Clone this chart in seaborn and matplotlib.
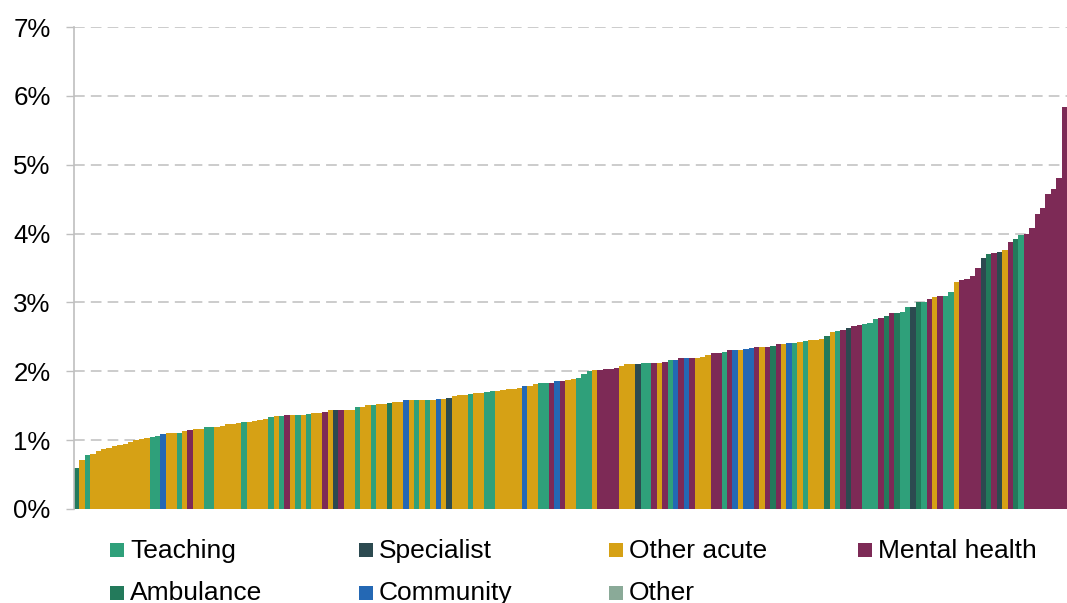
import matplotlib
matplotlib.use("Agg")
import matplotlib.pyplot as plt
from matplotlib.patches import Rectangle
from matplotlib.ticker import FuncFormatter
import seaborn as sns
import pandas as pd

# ---- data -------------------------------------------------------------
type_names = {
    "T": "Teaching", "S": "Specialist", "OA": "Other acute", "MH": "Mental health",
    "A": "Ambulance", "C": "Community", "O": "Other",
}
legend_order = ["Teaching", "Specialist", "Other acute", "Mental health",
                "Ambulance", "Community", "Other"]
colors = ["#2FA07A", "#2C4A50", "#D6A115", "#7D2A56",
          "#237A5B", "#2468B4", "#8AAA98"]

trust_type = (
    ["A", "OA", "T", "OA", "OA", "OA", "OA", "OA", "OA", "OA", "OA", "OA", "OA", "OA",
     "T", "T", "C", "OA", "OA", "T", "OA", "MH", "OA", "OA"]
    + ["T", "T", "OA", "OA", "OA", "OA", "OA", "T", "OA", "OA", "OA", "OA", "T", "OA",
       "T", "MH", "OA", "T", "OA", "T", "OA", "OA"]
    + ["MH", "OA", "S", "MH", "OA", "OA", "T", "OA", "OA", "T", "OA", "OA", "A", "OA",
       "OA", "C", "OA", "T", "OA", "T", "OA", "C", "OA", "S"]
    + ["OA", "OA", "OA", "T", "OA", "OA", "T", "T", "OA", "OA", "OA", "OA", "OA", "C",
       "OA", "OA", "T", "T", "MH", "C", "MH", "OA", "OA"]
    + ["T", "T", "T", "OA", "MH", "MH", "MH", "MH", "OA", "OA", "OA", "S", "T", "T",
       "MH", "OA", "MH", "T", "C", "MH", "C", "MH", "OA"]
    + ["OA", "OA", "MH", "MH", "T", "MH", "C", "OA", "C", "C", "MH", "OA", "MH", "A",
       "MH", "OA", "C", "T", "OA", "T", "OA", "OA", "OA"]
    + ["A", "OA", "T", "MH", "S", "MH", "MH", "T", "T", "T", "MH", "A", "MH", "A",
       "T", "T", "S", "A", "T", "MH", "OA", "MH", "T"]
    + ["T", "OA", "MH", "MH", "MH", "MH", "S", "A", "MH", "S", "OA", "MH", "A", "T",
       "MH", "MH", "MH", "MH", "MH", "MH", "MH", "MH"]
)

rate_pct = (
    [0.59, 0.71, 0.79, 0.80, 0.84, 0.87, 0.88, 0.915, 0.93, 0.95, 0.98, 0.995, 1.01,
     1.035, 1.045, 1.06, 1.085, 1.10, 1.11, 1.11, 1.13, 1.15, 1.155, 1.16]
    + [1.185, 1.19, 1.19, 1.20, 1.235, 1.235, 1.245, 1.26, 1.26, 1.28, 1.295, 1.307,
       1.33, 1.35, 1.355, 1.365, 1.37, 1.37, 1.37, 1.38, 1.39, 1.395]
    + [1.41, 1.433, 1.433, 1.433, 1.433, 1.442, 1.477, 1.481, 1.506, 1.515, 1.53, 1.53,
       1.539, 1.549, 1.554, 1.578, 1.583, 1.588, 1.588, 1.588, 1.59, 1.602, 1.602, 1.612]
    + [1.646, 1.656, 1.66, 1.665, 1.68, 1.685, 1.694, 1.709, 1.718, 1.728, 1.738, 1.747,
       1.752, 1.791, 1.791, 1.82, 1.825, 1.83, 1.83, 1.864, 1.864, 1.868, 1.883]
    + [1.897, 1.955, 2.004, 2.023, 2.023, 2.028, 2.038, 2.052, 2.077, 2.101, 2.106, 2.11,
       2.115, 2.115, 2.125, 2.125, 2.13, 2.164, 2.164, 2.188, 2.198, 2.198, 2.20]
    + [2.212, 2.232, 2.261, 2.27, 2.285, 2.304, 2.309, 2.309, 2.324, 2.338, 2.348, 2.348,
       2.353, 2.367, 2.391, 2.391, 2.411, 2.415, 2.425, 2.444, 2.449, 2.459, 2.475]
    + [2.507, 2.57, 2.585, 2.60, 2.628, 2.658, 2.667, 2.691, 2.706, 2.754, 2.774, 2.803,
       2.846, 2.846, 2.861, 2.929, 2.934, 3.002, 3.006, 3.045, 3.083, 3.088, 3.093]
    + [3.146, 3.297, 3.33, 3.34, 3.384, 3.50, 3.645, 3.708, 3.718, 3.732, 3.766, 3.873,
       3.921, 3.974, 3.994, 4.081, 4.284, 4.371, 4.574, 4.652, 4.812, 5.833]
)

y_ticks = [0, 1, 2, 3, 4, 5, 6, 7]

# ---- figure -----------------------------------------------------------
sns.set_style("white")
plt.rcParams["font.family"] = ["Liberation Sans", "DejaVu Sans"]

W, H = 1067, 603
fig = plt.figure(figsize=(W / 100, H / 100), dpi=100)
ax = fig.add_axes([74 / W, 1 - 509 / H, 993 / W, 482 / H])

df = pd.DataFrame({
    "pos": list(range(len(rate_pct))),
    "rate": rate_pct,
    "type": [type_names[t] for t in trust_type],
})
palette = dict(zip(legend_order, colors))

sns.barplot(data=df, x="pos", y="rate", hue="type", palette=palette,
            order=list(range(len(rate_pct))), dodge=False, width=1.0,
            saturation=1, linewidth=0, legend=False, ax=ax)

ax.set_xlim(-0.5, len(rate_pct) - 0.5)
ax.set_ylim(0, 7)
ax.set_yticks(y_ticks)
ax.yaxis.set_major_formatter(FuncFormatter(lambda v, p: f"{v:.0f}%"))
ax.set_xticks([])
ax.set_xlabel("")
ax.set_ylabel("")
ax.set_axisbelow(True)
ax.grid(axis="y", color="#BFBFBF", linestyle=(0, (7, 4)), linewidth=1.1)
ax.grid(axis="x", visible=False)
for s in ["top", "right", "bottom"]:
    ax.spines[s].set_visible(False)
ax.spines["left"].set_color("#BFBFBF")
ax.spines["left"].set_linewidth(1.2)
ax.tick_params(axis="y", direction="out", length=5.8, width=1.0, color="#BFBFBF",
               pad=11, labelsize=18.6, labelcolor="black", left=True)

# ---- legend (manual, 4 columns x 2 rows) -----------------------------
col_x = [110, 359, 609, 858]
row_sq_top = [543, 586]
row_base = [558, 600]
for i, (name, col) in enumerate(zip(legend_order, colors)):
    r, c = divmod(i, 4)
    x0 = col_x[c]
    fig.add_artist(Rectangle((x0 / W, 1 - (row_sq_top[r] + 14) / H), 14 / W, 14 / H,
                             transform=fig.transFigure, facecolor=col, edgecolor="none"))
    fig.text((x0 + 20) / W, 1 - row_base[r] / H, name, fontsize=19,
             va="baseline", ha="left", color="black")

fig.savefig("out.png", dpi=100)
